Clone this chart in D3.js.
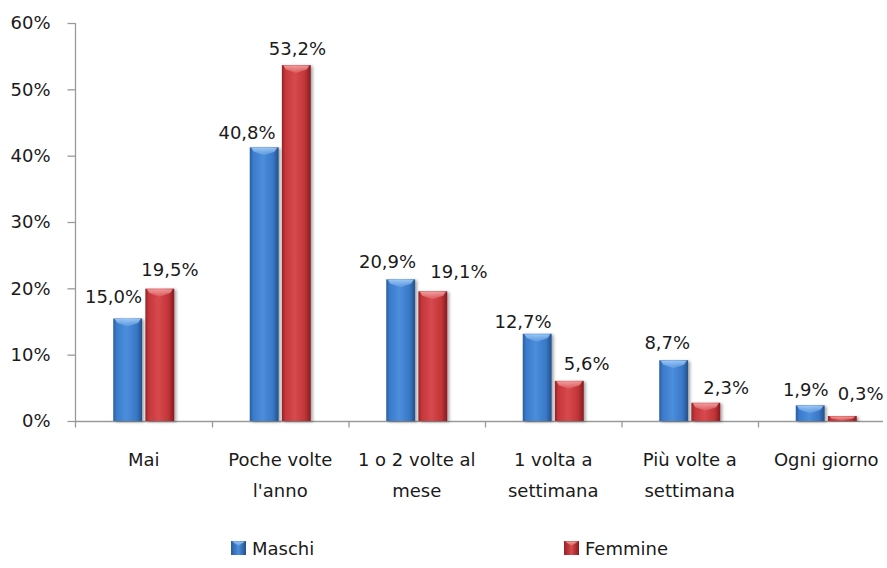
<!DOCTYPE html>
<html><head><meta charset="utf-8">
<script src="https://cdn.jsdelivr.net/npm/d3@7"></script>
<style>
html,body{margin:0;padding:0;background:#fff;}
svg{display:block;font-family:"DejaVu Sans",sans-serif;}
</style></head>
<body>
<svg id="chart" width="887" height="568"></svg>
<script>
const categories = ["Mai", "Poche volte l'anno", "1 o 2 volte al mese", "1 volta a settimana", "Più volte a settimana", "Ogni giorno"];
const categoryLines = [["Mai"], ["Poche volte", "l'anno"], ["1 o 2 volte al", "mese"], ["1 volta a", "settimana"], ["Più volte a", "settimana"], ["Ogni giorno"]];
const seriesNames = ["Maschi", "Femmine"];
const maschi = [15.0, 40.8, 20.9, 12.7, 8.7, 1.9];
const femmine = [19.5, 53.2, 19.1, 5.6, 2.3, 0.3];
const yTicks = [0, 10, 20, 30, 40, 50, 60];

// layout-only label nudges (pixels), matching the reference label placement
const labelDxM = [0, -3, 1, 0, 2, 4];
const labelDxF = [-4, -13, 12, 9, 12, 10];
const labelGapM = [16, 8, 11, 6, 11, 9];
const labelGapF = [13, 10, 13, 11, 9, 16];

const svg = d3.select("#chart");
const x0 = d3.scaleBand().domain(categories).range([75.5, 894.5]).padding(0);
const x1 = d3.scaleBand().domain(seriesNames).range([-30.5, 30.5]).paddingInner(0.1);
const y = d3.scaleLinear().domain([0, 60]).range([421, 23]);
const fmt = v => d3.format(".1f")(v).replace(".", ",") + "%";

const defs = svg.append("defs");
function grad(id, stops) {
  const g = defs.append("linearGradient").attr("id", id).attr("x1", "0").attr("x2", "1").attr("y1", "0").attr("y2", "0");
  stops.forEach(s => g.append("stop").attr("offset", s[0]).attr("stop-color", s[1]));
}
grad("gBlue", [[0, "#2a5c9c"], [0.12, "#3b7bcb"], [0.45, "#4b8edc"], [0.8, "#3a78c6"], [1, "#22508a"]]);
grad("gRed", [[0, "#922226"], [0.12, "#c5373b"], [0.45, "#d7494d"], [0.8, "#c13538"], [1, "#861b1f"]]);
grad("gBlueLeg", [[0, "#2a5c9c"], [0.5, "#4b8edc"], [1, "#22508a"]]);
grad("gRedLeg", [[0, "#922226"], [0.5, "#d7494d"], [1, "#861b1f"]]);
const topG = (id, c) => {
  const g = defs.append("linearGradient").attr("id", id).attr("x1", "0").attr("x2", "0").attr("y1", "0").attr("y2", "1");
  g.append("stop").attr("offset", 0).attr("stop-color", c).attr("stop-opacity", 0.95);
  g.append("stop").attr("offset", 1).attr("stop-color", c).attr("stop-opacity", 0.2);
};
topG("tBlue", "#9cc8f8");
topG("tRed", "#f4a0a0");
const f = defs.append("filter").attr("id", "sh").attr("x", "-30%").attr("y", "-10%").attr("width", "160%").attr("height", "130%");
f.append("feDropShadow").attr("dx", 2).attr("dy", 1).attr("stdDeviation", 1.6).attr("flood-color", "#000").attr("flood-opacity", 0.35);

// axes
const axisColor = "#9a9a9a";
const yAxis = svg.append("g").attr("transform", "translate(75.5,0)")
  .call(d3.axisLeft(y).tickValues(yTicks).tickSize(8).tickPadding(17).tickFormat(d => d + "%"));
yAxis.select(".domain").remove();
yAxis.selectAll(".tick line").attr("stroke", axisColor).attr("stroke-width", 1.3);
yAxis.selectAll(".tick text").attr("font-family", "DejaVu Sans").attr("font-size", 18).attr("fill", "#1a1a1a");
svg.append("line").attr("x1", 75.5).attr("x2", 75.5).attr("y1", y(60)).attr("y2", 427.5).attr("stroke", axisColor).attr("stroke-width", 1.3);
svg.append("line").attr("x1", 75.5).attr("x2", 883).attr("y1", y(0) + 0.5).attr("y2", y(0) + 0.5).attr("stroke", axisColor).attr("stroke-width", 1.3);
svg.append("g").selectAll("line").data(categories.slice(1)).join("line")
  .attr("x1", d => x0(d) + 0.5).attr("x2", d => x0(d) + 0.5)
  .attr("y1", y(0)).attr("y2", 427.5).attr("stroke", axisColor).attr("stroke-width", 1.3);

// bars
const rows = categories.map((c, i) => ({c, i, vals: [
  {s: "Maschi", v: maschi[i], fill: "url(#gBlue)", top: "url(#tBlue)"},
  {s: "Femmine", v: femmine[i], fill: "url(#gRed)", top: "url(#tRed)"}]}));
const bevel = 3;
const gBars = svg.append("g");
rows.forEach(r => {
  const cx = x0(r.c) + x0.bandwidth() / 2;
  r.vals.forEach(d => {
    const bx = cx + x1(d.s), bw = x1.bandwidth();
    const top = y(d.v) - bevel, bot = y(0);
    const g = gBars.append("g");
    g.append("rect").attr("x", bx).attr("y", top).attr("width", bw).attr("height", bot - top)
      .attr("fill", d.fill).attr("filter", "url(#sh)");
    const h = Math.min(8, (bot - top) * 0.9);
    g.append("path").attr("d", `M${bx + 1.5},${top + 0.5} L${bx + bw - 1.5},${top + 0.5} L${bx + bw - 4},${top + h * 0.55} L${bx + bw / 2},${top + h} L${bx + 4},${top + h * 0.55} Z`)
      .attr("fill", d.top);
  });
});

// value labels
const gLab = svg.append("g").attr("font-family", "DejaVu Sans").attr("font-size", 18).attr("fill", "#1a1a1a");
rows.forEach(r => {
  const cx = x0(r.c) + x0.bandwidth() / 2;
  const m = r.vals[0], fm = r.vals[1];
  gLab.append("text").attr("text-anchor", "end")
    .attr("x", cx + x1("Maschi") + x1.bandwidth() + labelDxM[r.i])
    .attr("y", y(m.v) - bevel - labelGapM[r.i]).text(fmt(m.v));
  gLab.append("text").attr("text-anchor", "start")
    .attr("x", cx + x1("Femmine") + labelDxF[r.i])
    .attr("y", y(fm.v) - bevel - labelGapF[r.i]).text(fmt(fm.v));
});

// category labels
const gCat = svg.append("g").attr("font-family", "DejaVu Sans").attr("font-size", 18).attr("fill", "#1a1a1a").attr("text-anchor", "middle");
categories.forEach((c, i) => {
  const cx = x0(c) + x0.bandwidth() / 2;
  const t = gCat.append("text").attr("x", cx).attr("y", 466);
  categoryLines[i].forEach((ln, k) => t.append("tspan").attr("x", cx).attr("dy", k === 0 ? 0 : 31).text(ln));
});

// legend
const legend = svg.append("g").attr("font-family", "DejaVu Sans").attr("font-size", 18).attr("fill", "#1a1a1a");
const legX = [231, 564];
seriesNames.forEach((s, i) => {
  legend.append("rect").attr("x", legX[i]).attr("y", 541).attr("width", 15).attr("height", 14)
    .attr("fill", i === 0 ? "url(#gBlueLeg)" : "url(#gRedLeg)");
  legend.append("path").attr("d", `M${legX[i] + 1},541.5 L${legX[i] + 14},541.5 L${legX[i] + 7.5},546 Z`)
    .attr("fill", i === 0 ? "url(#tBlue)" : "url(#tRed)");
  legend.append("text").attr("x", legX[i] + 21).attr("y", 555).text(s);
});
</script>
</body></html>
